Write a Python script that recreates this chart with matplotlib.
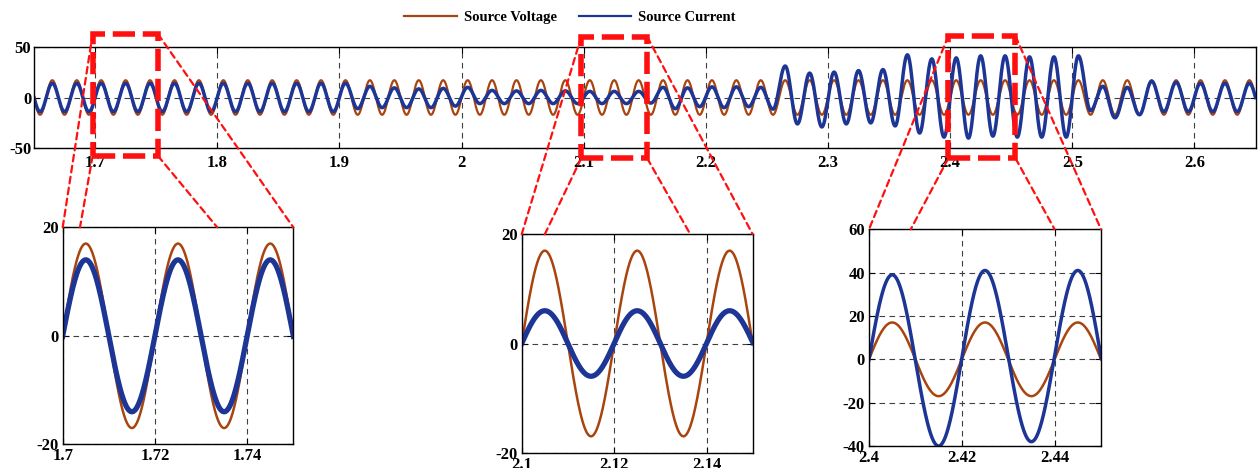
"""Source voltage / source current with three zoomed windows."""
import numpy as np
import matplotlib
matplotlib.use("Agg")
import matplotlib.pyplot as plt
from matplotlib.lines import Line2D
from matplotlib.patches import Rectangle, ConnectionPatch

plt.rcParams.update({
    "font.family": ["Liberation Serif", "DejaVu Serif"],
    "font.weight": "bold",
    "axes.unicode_minus": False,
})

# ---- data ----------------------------------------------------------------
# extrema of each half cycle (50 Hz), first one at T_FIRST, then every HALF s
T_FIRST = 1.645
HALF = 0.01
VOLT_PEAK = 17.0
current_extrema = [
    14, -14, 14, -14, 14, -14, 14, -14, 14, -14,       # 1.645 .. 1.735
    14, -14, 14, -14, 14, -14, 14, -14, 14, -14,       # 1.745 .. 1.835
    14, -14, 14, -14, 14, -14, 14, -11, 11, -10,       # 1.845 .. 1.935
    9.5, -10, 8.5, -10, 9, -8.5, 10, -6, 7, -6,        # 1.945 .. 2.035
    6.5, -6, 7, -6, 6.5, -6, 6, -6, 6, -6,             # 2.045 .. 2.135
    6, -5.5, 10, -11, 9.5, -9, 10.5, -10, 10.5, -9,    # 2.145 .. 2.235
    10, -11.5, 31, -26, 24, -29, 25, -26, 26.5, -25,   # 2.245 .. 2.335
    27.5, -28, 42, -35, 38, -39, 39, -40, 41, -38,     # 2.345 .. 2.435
    41, -39, 40, -39, 40, -39, 41, -13, 11, -20,       # 2.445 .. 2.535
    10, -17, 16, -14, 15, -14, 14, -14, 14, -14,       # 2.545 .. 2.635
    14, -14,                                           # 2.645 .. 2.655
]

main_xticks = [1.7, 1.8, 1.9, 2.0, 2.1, 2.2, 2.3, 2.4, 2.5, 2.6]
main_xlabels = ["1.7", "1.8", "1.9", "2", "2.1", "2.2", "2.3", "2.4", "2.5", "2.6"]
main_yticks = [-50, 0, 50]

zoom_windows = [(1.70, 1.75), (2.10, 2.15), (2.40, 2.45)]
zoom_xticks = [[1.7, 1.72, 1.74], [2.1, 2.12, 2.14], [2.4, 2.42, 2.44]]
zoom_xlabels = [["1.7", "1.72", "1.74"], ["2.1", "2.12", "2.14"], ["2.4", "2.42", "2.44"]]
zoom_ylims = [(-20, 20), (-20, 20), (-40, 60)]
zoom_yticks = [[-20, 0, 20], [-20, 0, 20], [-40, -20, 0, 20, 40, 60]]

C_VOLT = "#a8450f"
C_CURR = "#1d3595"
C_RED = "#ff1010"


def waveform(t, ext):
    ext = np.asarray(ext, dtype=float)
    pos = (t - T_FIRST) / HALF
    k = np.floor(pos).astype(int)
    ph = pos - k
    a0, a1 = ext[k], ext[k + 1]
    return (a0 + a1) / 2 + (a0 - a1) / 2 * np.cos(np.pi * ph)


t = np.linspace(1.65, 2.65, 40001)
volt = waveform(t, [VOLT_PEAK, -VOLT_PEAK] * 51)
curr = waveform(t, current_extrema)

# ---- figure --------------------------------------------------------------
W, H = 1259, 468
fig = plt.figure(figsize=(W / 100, H / 100), dpi=100)


def px_axes(left, top, right, bottom):
    return fig.add_axes([left / W, 1 - bottom / H, (right - left) / W, (bottom - top) / H])


def style(ax, ypad, xpad):
    for s in ax.spines.values():
        s.set_linewidth(1.0)
    ax.tick_params(direction="in", top=True, right=True, length=4, width=0.8,
                   labelsize=12)
    ax.tick_params(axis="y", pad=ypad)
    ax.tick_params(axis="x", pad=xpad)
    ax.grid(True, ls=(0, (5, 4)), color="0.25", lw=0.8)


main = px_axes(34, 46.7, 1255.5, 148.3)
main.plot(t, volt, color=C_VOLT, lw=1.6)
main.plot(t, curr, color=C_CURR, lw=2.5)
main.set_xlim(1.65, 2.65)
main.set_ylim(-50, 50)
main.set_xticks(main_xticks, main_xlabels)
main.set_yticks(main_yticks)
style(main, 2, 5)

inset_px = [(62.7, 227.3, 293.3, 444.3), (521.7, 234.3, 752.7, 452.7), (869, 229.3, 1101, 446)]
curr_lw = [3.8, 3.8, 2.5]
insets = []
for i, rect in enumerate(inset_px):
    ax = px_axes(*rect)
    ax.plot(t, volt, color=C_VOLT, lw=1.8)
    ax.plot(t, curr, color=C_CURR, lw=curr_lw[i])
    ax.set_xlim(*zoom_windows[i])
    ax.set_ylim(*zoom_ylims[i])
    ax.set_xticks(zoom_xticks[i], zoom_xlabels[i])
    ax.set_yticks(zoom_yticks[i])
    style(ax, 3, 3)
    insets.append(ax)

# red dashed boxes on the main plot and the connector lines
box_x = [(1.698, 1.7515), (2.098, 2.152), (2.3985, 2.4535)]
box_y = [(-57.5, 62.5), (-59.8, 59.8), (-59.8, 60.4)]
foot = [(0.075, 0.67), (0.10, 0.73), (0.18, 0.80)]
for (x0, x1), (y0, y1), (f0, f1), ins in zip(box_x, box_y, foot, insets):
    main.add_patch(Rectangle((x0, y0), x1 - x0, y1 - y0, fill=False, ec=C_RED,
                             lw=4, ls=(0, (4, 1.4)), clip_on=False, zorder=10))
    for xa, ya, xb in [(x0, y1, 0), (x0, y0, f0), (x1, y0, f1), (x1, y1, 1)]:
        cp = ConnectionPatch(xyA=(xa, ya), coordsA=main.transData,
                             xyB=(xb, 1), coordsB=ins.transAxes,
                             color=C_RED, lw=1.6, ls=(0, (3, 2)), zorder=11)
        fig.add_artist(cp)

handles = [Line2D([], [], color=C_VOLT, lw=1.6), Line2D([], [], color=C_CURR, lw=1.6)]
fig.legend(handles, ["Source Voltage", "Source Current"], loc="center",
           bbox_to_anchor=(570 / W, 1 - 17 / H), ncol=2, frameon=False,
           prop={"size": 10.5, "weight": "bold"}, handlelength=3.6,
           handletextpad=0.5, columnspacing=1.5)

fig.savefig("out.png", dpi=100)
